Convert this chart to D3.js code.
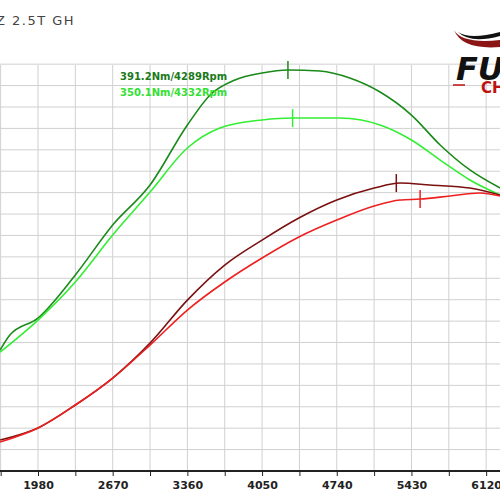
<!DOCTYPE html>
<html><head><meta charset="utf-8">
<script src="https://cdn.jsdelivr.net/npm/d3@7"></script>
<style>body{margin:0;background:#fff}</style></head>
<body><svg id="c" width="500" height="500"></svg>
<script>
// rpm samples and curves (Nm scale)
const rpmTunedTq = [1630,1720,1980,2325,2670,3015,3360,3570,3800,4050,4289,4585,4860,5140,5430,5695,5970,6250];
const tunedTq = [151.5,164.4,178.9,215.8,258.6,292.8,344.2,369.9,382.7,388.7,391.3,390.4,384.4,372.4,352.7,327.1,305.7,290.2];
const rpmStockTq = [1630,1980,2325,2670,3015,3360,3660,4050,4332,4770,5140,5430,5695,5970,6250];
const stockTq = [149.8,177.2,209.8,250,286.8,324.5,341.6,348.5,350.2,350.2,344.2,331.3,314.2,297.1,284.2];
const rpmTunedPw = [1630,1980,2325,2670,3015,3360,3705,4050,4390,4740,5085,5325,5600,5970,6250];
const tunedPw = [74.5,84.8,104.5,127.6,157.5,194.3,224.3,245.7,264.6,280,290.2,294.5,292.8,290.2,284.2];
const rpmStockPw = [1630,1980,2325,2670,3015,3360,3705,4050,4390,4740,5085,5325,5510,5785,6060,6250];
const stockPw = [72.8,84.8,104.5,127.6,155.8,185.8,209.8,230.3,248.3,262.8,274.8,280,280.8,283.4,286,283.4];
const xTicks = [1980,2670,3360,4050,4740,5430,6120];
const peaks = [[4289,391.2,"#1a8a1a"],[4332,350.1,"#33ee33"],[5290,294.5,"#7a1010"],[5510,280.8,"#ee2020"]];

const svg = d3.select("#c");
const x = d3.scaleLinear().domain([1629, 6248]).range([0, 500]);
const y = d3.scaleLinear().domain([48, 451.2]).range([471, 0]);

// grid
const xg = d3.range(1635, 6300, 345);
svg.append("g").selectAll("line").data(xg).join("line")
  .attr("x1", d => x(d)).attr("x2", d => x(d)).attr("y1", 65).attr("y2", 471)
  .attr("stroke", "#d0d0d0");
const yg = d3.range(48, 400, 18.33);
svg.append("g").selectAll("line").data(yg).join("line")
  .attr("x1", 0).attr("x2", 500).attr("y1", d => y(d)).attr("y2", d => y(d))
  .attr("stroke", "#d0d0d0");

// axis
const ax = svg.append("g").attr("transform", "translate(0,471)")
  .call(d3.axisBottom(x).tickValues(xg).tickSize(5).tickSizeOuter(0)
    .tickFormat(d => { const t = xTicks.find(v => Math.abs(v - d) < 5); return t ? t : ""; }));
ax.select(".domain").attr("stroke", "#222").attr("stroke-width", 2).attr("d", "M0,0H500");
ax.selectAll("line").attr("stroke", "#222");
ax.selectAll("text").attr("font-family", "DejaVu Sans").attr("font-size", 11).attr("font-weight", "bold").attr("fill", "#222").attr("dy", "0.9em");

const line = d3.line().curve(d3.curveMonotoneX);
function draw(r, v, c) {
  svg.append("path").attr("d", line(r.map((d, i) => [x(d), y(v[i])])))
    .attr("fill", "none").attr("stroke", c).attr("stroke-width", 1.6);
}
draw(rpmTunedTq, tunedTq, "#1a8a1a");
draw(rpmStockTq, stockTq, "#33ee33");
draw(rpmTunedPw, tunedPw, "#7a1010");
draw(rpmStockPw, stockPw, "#ee2020");

svg.append("g").selectAll("line").data(peaks).join("line")
  .attr("x1", d => x(d[0])).attr("x2", d => x(d[0]))
  .attr("y1", d => y(d[1]) - 9).attr("y2", d => y(d[1]) + 9)
  .attr("stroke", d => d[2]).attr("stroke-width", 1.5);

svg.append("text").attr("x", 120).attr("y", 80).attr("fill", "#1a7a1a")
  .attr("font-family", "DejaVu Sans").attr("font-size", 10).attr("font-weight", "bold").text("391.2Nm/4289Rpm");
svg.append("text").attr("x", 120).attr("y", 96).attr("fill", "#33e033")
  .attr("font-family", "DejaVu Sans").attr("font-size", 10).attr("font-weight", "bold").text("350.1Nm/4332Rpm");

svg.append("text").attr("x", -4).attr("y", 25).attr("fill", "#444")
  .attr("font-family", "DejaVu Sans").attr("font-size", 13).attr("letter-spacing", 1.5).text("Z 2.5T GH");

// logo
svg.append("path").attr("d", "M454,30 Q462,44 500,40 L500,47 Q462,50 454,30Z").attr("fill", "#8b1515");
svg.append("path").attr("d", "M458,32 Q470,40 500,32 L500,36 Q470,44 458,32Z").attr("fill", "#111");
svg.append("text").attr("x", 456).attr("y", 80).attr("fill", "#111")
  .attr("font-family", "DejaVu Sans").attr("font-size", 32).attr("font-weight", "bold").attr("font-style", "italic").text("FU");
svg.append("text").attr("x", 481).attr("y", 93).attr("fill", "#c01010")
  .attr("font-family", "DejaVu Sans").attr("font-size", 15).attr("font-weight", "bold").text("CH");
svg.append("line").attr("x1", 453).attr("x2", 465).attr("y1", 85).attr("y2", 85).attr("stroke", "#c01010").attr("stroke-width", 1.5);
</script></body></html>
